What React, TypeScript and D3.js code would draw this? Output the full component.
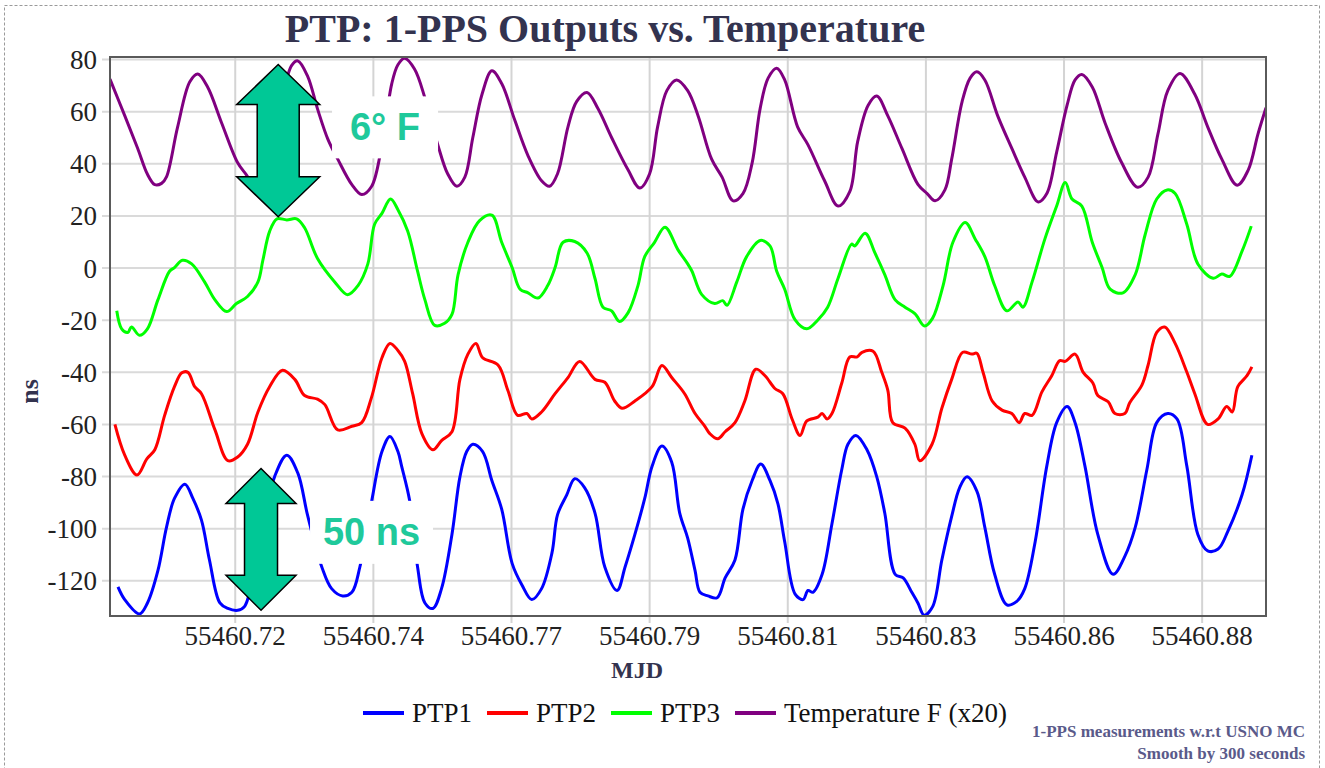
import React from "react";
import * as d3 from "d3";

// MJD vs ns readings, one pair per point
const ptp1: [number, number][] = [
  [55460.7009,-122.3],[55460.7020,-127.2],[55460.7044,-132.7],[55460.7057,-128.5],[55460.7074,-116.1],[55460.7088,-99.5],[55460.7101,-88.4],[55460.7118,-82.9],[55460.7131,-88.4],[55460.7145,-96.7],[55460.7158,-112],[55460.7175,-128.5],[55460.7188,-130.6],[55460.7204,-131.3],[55460.7215,-129.9],[55460.7232,-115],[55460.7248,-95],[55460.7264,-80.1],[55460.7284,-71.8],[55460.7302,-78.7],[55460.7317,-94],[55460.7330,-106],[55460.7341,-114.7],[55460.7357,-123],[55460.7375,-125.8],[55460.7390,-124.4],[55460.7403,-114.7],[55460.7422,-89.8],[55460.7439,-70.4],[55460.7452,-64.6],[55460.7465,-70.4],[55460.7471,-76],[55460.7484,-89.1],[55460.7497,-114.7],[55460.7509,-128.5],[55460.7522,-130.6],[55460.7536,-123],[55460.7553,-102.2],[55460.7566,-80.1],[55460.7577,-70.4],[55460.7587,-67.6],[55460.7603,-70.4],[55460.7618,-81.5],[55460.7634,-92.5],[55460.7651,-113.3],[55460.7667,-121.6],[55460.7683,-127.2],[55460.7699,-123],[55460.7716,-109.2],[55460.7725,-94.6],[55460.7740,-87],[55460.7753,-80.8],[55460.7769,-84.2],[55460.7786,-94],[55460.7802,-114.7],[55460.7822,-123.7],[55460.7835,-114.7],[55460.7851,-102.2],[55460.7867,-88.4],[55460.7879,-76],[55460.7895,-68.3],[55460.7911,-74.5],[55460.7924,-94],[55460.7937,-103.6],[55460.7949,-116.1],[55460.7957,-124.4],[55460.7970,-125.8],[55460.7985,-126.5],[55460.7998,-118.9],[55460.8014,-112],[55460.8027,-92.5],[55460.8042,-81.5],[55460.8056,-75.2],[55460.8071,-81.5],[55460.8084,-90.5],[55460.8095,-105],[55460.8112,-125.1],[55460.8125,-127.2],[55460.8133,-123.7],[55460.8141,-124.4],[55460.8156,-117.5],[55460.8172,-98.1],[55460.8188,-77.3],[55460.8198,-67.6],[55460.8211,-64.2],[55460.8229,-69.7],[55460.8245,-80.1],[55460.8258,-94],[55460.8275,-117.5],[55460.8288,-118.9],[55460.8302,-124.4],[55460.8312,-128.5],[55460.8322,-133.2],[55460.8336,-129.9],[55460.8351,-112],[55460.8367,-95.3],[55460.8380,-84.2],[55460.8392,-80.1],[55460.8408,-85.6],[55460.8421,-99.5],[55460.8437,-117.5],[55460.8457,-129.2],[55460.8473,-127.9],[55460.8486,-123],[55460.8503,-105],[55460.8522,-75.9],[55460.8538,-59.3],[55460.8555,-53.1],[55460.8568,-59.3],[55460.8584,-75.9],[55460.8605,-102.2],[55460.8630,-117.5],[55460.8649,-110.6],[55460.8666,-99.5],[55460.8685,-77.3],[55460.8701,-59.3],[55460.8719,-55.8],[55460.8734,-57.9],[55460.8750,-75.9],[55460.8768,-102.2],[55460.8784,-108.5],[55460.8801,-107.8],[55460.8817,-100.9],[55460.8840,-87],[55460.8856,-71.8]
];

const ptp2: [number, number][] = [
  [55460.7004,-60],[55460.7020,-71.8],[55460.7040,-79.4],[55460.7056,-73.2],[55460.7069,-69.7],[55460.7085,-56.5],[55460.7101,-45.5],[55460.7113,-40.2],[55460.7123,-40],[55460.7134,-45.5],[55460.7145,-48.2],[55460.7167,-62.1],[55460.7188,-73.9],[55460.7204,-72.5],[55460.7220,-67.6],[55460.7237,-55.2],[55460.7256,-45.5],[55460.7277,-39.2],[55460.7297,-42.7],[55460.7313,-48.9],[55460.7334,-50.3],[55460.7346,-52.4],[55460.7367,-62.1],[55460.7390,-60.7],[55460.7406,-59.3],[55460.7422,-49.6],[55460.7439,-34.4],[55460.7452,-28.9],[55460.7465,-31.6],[55460.7476,-35.8],[55460.7489,-48.2],[55460.7504,-63.5],[55460.7522,-69.7],[55460.7536,-66.2],[55460.7553,-62.8],[55460.7566,-42.7],[55460.7579,-33],[55460.7592,-28.9],[55460.7603,-34.4],[55460.7628,-37.2],[55460.7644,-46.9],[55460.7660,-56.5],[55460.7675,-55.8],[55460.7683,-57.9],[55460.7699,-55.2],[55460.7721,-48.2],[55460.7742,-42],[55460.7761,-35.8],[55460.7786,-42.7],[55460.7802,-43.8],[55460.7818,-51],[55460.7830,-53.8],[55460.7851,-51],[55460.7879,-45.5],[55460.7895,-37.4],[55460.7911,-42],[55460.7932,-48.2],[55460.7949,-55.8],[55460.7965,-60.7],[55460.7973,-63.5],[55460.7986,-65.5],[55460.7998,-62.8],[55460.8014,-59.3],[55460.8030,-51],[55460.8048,-38.8],[55460.8063,-41.3],[55460.8079,-46.2],[55460.8092,-48.2],[55460.8107,-57.9],[55460.8120,-64.2],[55460.8131,-58.6],[55460.8149,-57.2],[55460.8156,-55.8],[55460.8164,-57.9],[55460.8172,-55.8],[55460.8188,-44.1],[55460.8201,-34.1],[55460.8213,-34.1],[55460.8221,-32.3],[55460.8239,-31.9],[55460.8253,-39.9],[55460.8263,-46.9],[55460.8271,-59.3],[55460.8291,-61.4],[55460.8307,-67.6],[55460.8315,-73.9],[55460.8335,-67.6],[55460.8351,-53.8],[55460.8367,-42.7],[55460.8385,-32.3],[55460.8400,-33],[55460.8408,-32.7],[55460.8418,-39.9],[55460.8433,-51],[55460.8449,-54.5],[55460.8465,-55.8],[55460.8477,-59.3],[55460.8486,-55.8],[55460.8498,-56.5],[55460.8514,-47.5],[55460.8530,-41.3],[55460.8543,-35.5],[55460.8552,-35.8],[55460.8568,-33],[55460.8581,-39.9],[55460.8597,-44.1],[55460.8605,-48.9],[55460.8622,-51.3],[55460.8633,-55.8],[55460.8649,-55.8],[55460.8657,-51.7],[55460.8677,-44.8],[55460.8687,-37.2],[55460.8701,-24.7],[55460.8714,-22.6],[55460.8731,-28.9],[55460.8750,-39.9],[55460.8763,-48.2],[55460.8784,-60],[55460.8801,-57.9],[55460.8815,-53.1],[55460.8824,-55.2],[55460.8833,-45.5],[55460.8848,-41.3],[55460.8856,-37.9]
];

const ptp3: [number, number][] = [
  [55460.7007,-16.4],[55460.7015,-23.3],[55460.7025,-24.7],[55460.7031,-22.6],[55460.7044,-25.8],[55460.7057,-23.3],[55460.7074,-12.2],[55460.7093,-1.2],[55460.7101,0.2],[55460.7114,3],[55460.7129,1.6],[55460.7150,-5.3],[55460.7167,-12.2],[55460.7186,-16.7],[55460.7202,-13.6],[55460.7220,-10.9],[55460.7237,-5.3],[55460.7245,3],[55460.7256,14.1],[55460.7268,18.9],[55460.7284,18.5],[55460.7300,18.9],[55460.7313,15.5],[55460.7334,3.7],[55460.7362,-5.3],[55460.7383,-10.2],[55460.7400,-6.7],[55460.7416,1.6],[55460.7427,16.8],[55460.7439,21],[55460.7453,26.5],[55460.7465,22.4],[55460.7481,14.1],[55460.7497,-1.2],[55460.7509,-12.2],[55460.7525,-22],[55460.7541,-21.2],[55460.7553,-17.8],[55460.7563,-2.5],[55460.7579,9.9],[55460.7598,18.2],[55460.7618,20.3],[55460.7634,9.9],[55460.7651,0.2],[55460.7664,-8.1],[55460.7677,-9.5],[55460.7693,-11.5],[55460.7709,-6.7],[55460.7721,0.2],[55460.7734,9.9],[55460.7753,10.2],[55460.7773,5.8],[55460.7786,-4],[55460.7799,-15],[55460.7813,-16.4],[55460.7826,-20.5],[55460.7840,-17.1],[55460.7856,-6.7],[55460.7867,4.4],[55460.7883,9.9],[55460.7900,15.7],[55460.7921,7.1],[55460.7937,1.6],[55460.7944,-1.2],[55460.7960,-10.2],[55460.7981,-13.6],[55460.7994,-12.5],[55460.8001,-14.3],[55460.8017,-5.3],[55460.8033,4.4],[55460.8055,10.6],[55460.8071,8.5],[55460.8082,-1.2],[55460.8095,-8.1],[55460.8112,-19.9],[55460.8131,-23.3],[55460.8149,-19.9],[55460.8165,-15],[55460.8182,-3.9],[55460.8204,9.2],[55460.8209,8.5],[55460.8226,13.4],[55460.8242,5.8],[55460.8258,-2.5],[55460.8275,-12.2],[55460.8291,-15],[55460.8307,-17.5],[55460.8323,-22.2],[55460.8336,-19.2],[55460.8353,-6.7],[55460.8369,9.9],[55460.8389,17.5],[55460.8405,11.3],[55460.8421,4.4],[55460.8437,-6.7],[55460.8457,-16.4],[55460.8475,-13],[55460.8483,-15],[55460.8498,-5.3],[55460.8519,11.3],[55460.8538,23.8],[55460.8552,32.8],[55460.8563,26.5],[55460.8579,23.8],[55460.8596,9.9],[55460.8612,0.2],[55460.8625,-8.1],[55460.8646,-9.5],[55460.8666,-2.5],[55460.8682,12.7],[55460.8701,26.5],[55460.8718,30],[55460.8731,28.6],[55460.8750,16.8],[55460.8768,1.6],[55460.8793,-3.9],[55460.8807,-2.3],[55460.8820,-3.2],[55460.8840,6.5],[55460.8855,16.1]
];

// temperature (F x20), plotted on the ns axis
const tempF: [number, number][] = [
  [55460.6996,72.5],[55460.7020,58.5],[55460.7041,46],[55460.7057,36],[55460.7069,32],[55460.7080,32.5],[55460.7088,35],[55460.7106,54],[55460.7126,71.5],[55460.7139,74.5],[55460.7155,69.5],[55460.7178,55.6],[55460.7204,40.4],[55460.7219,35.5],[55460.7233,30.5],[55460.7246,36],[55460.7273,62],[55460.7292,77.8],[55460.7302,79.5],[55460.7318,73.6],[55460.7334,61.1],[55460.7351,49.4],[55460.7367,41.8],[55460.7390,32],[55460.7406,28.2],[55460.7422,31.3],[55460.7439,47.3],[55460.7455,70.8],[55460.7465,78],[55460.7476,80.5],[55460.7492,76.4],[55460.7509,65.3],[55460.7530,47.3],[55460.7546,36.2],[55460.7561,31.4],[55460.7574,34.9],[55460.7587,50.1],[55460.7602,66.7],[55460.7618,75.7],[55460.7634,70.8],[55460.7655,57],[55460.7677,43.1],[55460.7699,33.5],[55460.7712,31.4],[55460.7725,36.2],[55460.7742,54.2],[55460.7756,63.9],[55460.7773,67.4],[55460.7791,61.1],[55460.7813,50.1],[55460.7840,37.6],[55460.7859,30.7],[55460.7875,36.2],[55460.7888,54.2],[55460.7903,68.1],[55460.7919,72.2],[55460.7937,68.1],[55460.7954,58.4],[55460.7976,41.8],[55460.7993,34.9],[55460.8011,25.8],[55460.8027,28.6],[55460.8042,40.4],[55460.8055,61.2],[55460.8068,72.9],[55460.8082,76.7],[55460.8095,72.2],[55460.8116,54.2],[55460.8133,47.3],[55460.8160,33.5],[55460.8182,23.8],[55460.8201,29.3],[55460.8214,48.7],[55460.8231,62.5],[55460.8245,66],[55460.8263,58.4],[55460.8286,45.9],[55460.8312,32.1],[55460.8327,28.6],[55460.8340,25.8],[55460.8356,30],[55460.8367,41.8],[55460.8384,63.9],[55460.8397,72.9],[55460.8408,75.3],[55460.8421,72.2],[55460.8442,58.4],[55460.8465,45.9],[55460.8486,34.9],[55460.8508,25.4],[55460.8522,28.6],[55460.8538,44.5],[55460.8555,62.5],[55460.8568,72.2],[55460.8579,74.3],[55460.8596,69.5],[55460.8617,55.6],[55460.8644,40.4],[55460.8670,31],[55460.8687,34.9],[55460.8703,51.5],[55460.8719,68.1],[55460.8739,74.7],[55460.8763,66.7],[55460.8784,54.2],[55460.8807,41.8],[55460.8832,31.8],[55460.8850,37.6],[55460.8866,51.5],[55460.8879,61.5]
];

const seriesNames = ["PTP1", "PTP2", "PTP3", "Temperature F (x20)"];
const seriesColors = ["#0000ff", "#ff0000", "#00ff00", "#800080"];
const seriesData = [ptp1, ptp2, ptp3, tempF];

const xDomain = [55460.6996, 55460.8879];
const yDomain = [-133.5, 81];
const xTicks = [55460.72, 55460.7425, 55460.765, 55460.7875, 55460.81, 55460.8325, 55460.855, 55460.8775];
const xTickLabels = ["55460.72", "55460.74", "55460.77", "55460.79", "55460.81", "55460.83", "55460.86", "55460.88"];
const yTicks = [80, 60, 40, 20, 0, -20, -40, -60, -80, -100, -120];

// annotation arrows: centre MJD, ns span, label position
const arrowMjd = [55460.7270, 55460.7242];
const arrowFrom = [19.7, -131.3];
const arrowTo = [78.1, -76.9];
const arrowLabels = ["6° F", "50 ns"];
const labelMjd = [55460.7444, 55460.7422];
const labelNs = [54, -101.4];

const notes = ["1-PPS measurements w.r.t USNO MC", "Smooth by 300 seconds"];

const SERIF = "'Liberation Serif', 'Times New Roman', serif";
const SANS = "'Liberation Sans', Arial, sans-serif";
const NAVY = "#33334f";

const left = 110, right = 1266, top = 57, bottom = 616;

export default function App() {
  const x = d3.scaleLinear().domain(xDomain).range([left, right]);
  const y = d3.scaleLinear().domain(yDomain).range([bottom, top]);
  const line = d3
    .line<[number, number]>()
    .x(d => x(d[0]))
    .y(d => y(d[1]))
    .curve(d3.curveCatmullRom.alpha(0.5));

  const arrowPath = (i: number) => {
    const cx = x(arrowMjd[i]);
    const yt = y(arrowTo[i]);
    const yb = y(arrowFrom[i]);
    const hh = i === 0 ? 40 : 35, hw = i === 0 ? 41.5 : 35, sw = i === 0 ? 21 : 16.5;
    const pts = [
      [cx, yt], [cx + hw, yt + hh], [cx + sw, yt + hh], [cx + sw, yb - hh], [cx + hw, yb - hh],
      [cx, yb], [cx - hw, yb - hh], [cx - sw, yb - hh], [cx - sw, yt + hh], [cx - hw, yt + hh],
    ];
    return "M" + pts.map(p => p.join(",")).join("L") + "Z";
  };
  const boxW = [106, 123], boxH = [62, 63];

  const legendX = [363, 487, 611, 735];

  return (
    <svg width={1325} height={768} style={{ position: "absolute", left: 0, top: 0, background: "#fff" }}>
      <rect x={4.5} y={5.5} width={1315} height={775} fill="#fff" stroke="#9a9a9a" strokeDasharray="3,2" />
      <defs>
        <clipPath id="plot">
          <rect x={left} y={top} width={right - left} height={bottom - top} />
        </clipPath>
      </defs>

      {/* grid */}
      {yTicks.map(t => (
        <line key={"gy" + t} x1={left - 8} x2={right} y1={y(t)} y2={y(t)} stroke="#dadada" strokeWidth={2} />
      ))}
      {xTicks.map(t => (
        <line key={"gx" + t} x1={x(t)} x2={x(t)} y1={top} y2={bottom + 7} stroke="#d4d4d4" strokeWidth={2} />
      ))}

      <g clipPath="url(#plot)">
        {seriesData.map((d, i) => (
          <path key={seriesNames[i]} d={line(d) || ""} fill="none" stroke={seriesColors[i]} strokeWidth={3} strokeLinejoin="round" />
        ))}
      </g>

      <rect x={left} y={top} width={right - left} height={bottom - top} fill="none" stroke="#5a5a5a" strokeWidth={2} />

      {/* annotations */}
      {arrowLabels.map((lab, i) => (
        <g key={lab}>
          <path d={arrowPath(i)} fill="#00c896" stroke="#000" strokeWidth={1.5} />
          <rect
            x={x(labelMjd[i]) - boxW[i] / 2}
            y={y(labelNs[i]) - boxH[i] / 2}
            width={boxW[i]}
            height={boxH[i]}
            fill="#fff"
          />
          <text
            x={x(labelMjd[i])}
            y={y(labelNs[i])}
            textAnchor="middle"
            dominantBaseline="central"
            fontFamily={SANS}
            fontWeight="bold"
            fontSize={38}
            fill="#1fc99b"
          >
            {lab}
          </text>
        </g>
      ))}

      {/* axes labels */}
      {yTicks.map(t => (
        <text key={"yl" + t} x={97} y={y(t)} dy="0.35em" textAnchor="end" fontFamily={SERIF} fontSize={27} fill="#222">
          {t}
        </text>
      ))}
      {xTicks.map((t, i) => (
        <text key={"xl" + t} x={x(t)} y={645} textAnchor="middle" fontFamily={SERIF} fontSize={27} fill="#222">
          {xTickLabels[i]}
        </text>
      ))}

      <text x={605} y={42} textAnchor="middle" fontFamily={SERIF} fontWeight="bold" fontSize={40} fill={NAVY}>
        PTP: 1-PPS Outputs vs. Temperature
      </text>
      <text x={637} y={678} textAnchor="middle" fontFamily={SERIF} fontWeight="bold" fontSize={24} fill={NAVY}>
        MJD
      </text>
      <text
        transform={`translate(38,${(top + bottom) / 2 + 55}) rotate(-90)`}
        textAnchor="middle"
        fontFamily={SERIF}
        fontWeight="bold"
        fontSize={26}
        fill={NAVY}
      >
        ns
      </text>

      {/* legend */}
      {seriesNames.map((n, i) => (
        <g key={"lg" + n}>
          <line x1={legendX[i]} x2={legendX[i] + 41} y1={713} y2={713} stroke={seriesColors[i]} strokeWidth={4} />
          <text x={legendX[i] + 49} y={722} fontFamily={SERIF} fontSize={27} fill="#111">
            {n}
          </text>
        </g>
      ))}

      {notes.map((n, i) => (
        <text key={n} x={1305} y={737 + i * 22} textAnchor="end" fontFamily={SERIF} fontWeight="bold" fontSize={17} fill="#5a5a8a">
          {n}
        </text>
      ))}
    </svg>
  );
}
